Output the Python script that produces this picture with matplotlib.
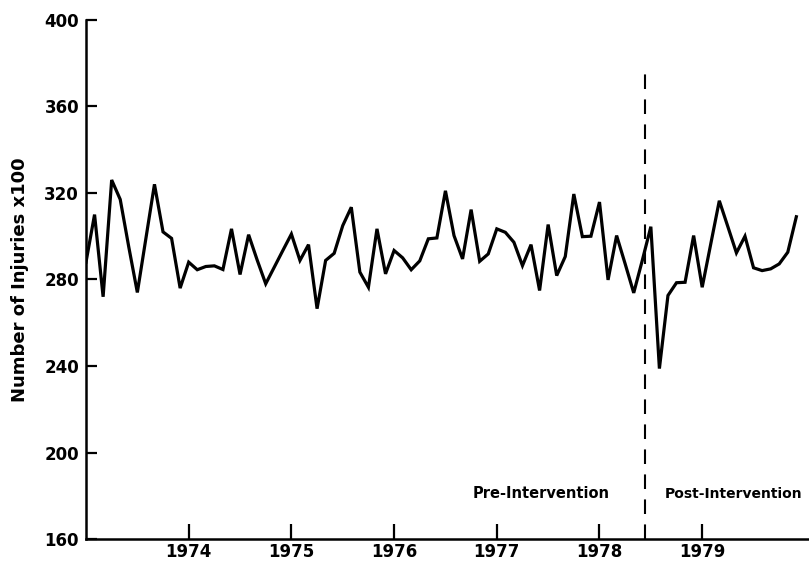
import numpy as np
import matplotlib.pyplot as plt

# monthly injuries (x100), Jan 1973 - Dec 1979
years = [1974, 1975, 1976, 1977, 1978, 1979]
injuries = [
	288, 310, 272, 326, 317, 295, 274, 299, 324, 302, 299, 276,
	288, 284.5, 286, 286.3, 284.6, 303.4, 282.3, 300.7, 289, 278, 285.7, 293.4,
	301, 288.8, 296.1, 266.5, 288.8, 292.1, 304.9, 313.4, 283.4, 276.4, 303.4, 282.6,
	293.4, 290, 284.5, 288.6, 298.8, 299.2, 321, 300.3, 289.5, 312.3, 288.4, 291.8,
	303.4, 301.8, 297.2, 286.4, 296.1, 274.9, 305.4, 281.8, 290.6, 319.5, 299.8, 300,
	315.8, 279.8, 300.3, 287.2, 273.8, 288.8, 304.4, 238.8, 272.6, 278.5, 278.7, 300.3,
	276.4, 296.4, 316.4, 304.4, 292.3, 300, 285.4, 284.1, 284.9, 287.2, 292.6, 309,
]
start_year = 1973
intervention = 1978.44
yticks = [160, 200, 240, 280, 320, 360, 400]

t = start_year + np.arange(len(injuries)) / 12.0

fig = plt.figure(figsize=(8.09, 5.63), dpi=100)
ax = fig.add_axes([0.1063, 0.0426, 0.8937, 0.922])

ax.plot(t, injuries, color='black', linewidth=2.3, solid_joinstyle='miter')
ax.plot([intervention, intervention], [160, 375], color='black', linewidth=1.5,
		linestyle=(0, (7, 5)))

ax.set_xlim(1973.0, 1980.04)
ax.set_ylim(160, 400)
ax.set_yticks(yticks)
ax.set_yticklabels([str(y) for y in yticks], fontsize=12, fontweight='bold')
ax.set_xticks(years)
ax.set_xticklabels([str(y) for y in years], fontsize=12, fontweight='bold')

for s in ['top', 'right']:
	ax.spines[s].set_visible(False)
for s in ['left', 'bottom']:
	ax.spines[s].set_linewidth(1.8)
ax.tick_params(axis='y', direction='in', length=8, width=1.6, pad=5)
ax.tick_params(axis='x', direction='in', length=11, width=1.6, pad=3)

ax.set_ylabel('Number of Injuries x100', fontsize=13, fontweight='bold', labelpad=11)

ax.text(1977.43, 181, 'Pre-Intervention', fontsize=10.5, fontweight='bold', ha='center', va='center')
ax.text(1978.64, 181, 'Post-Intervention', fontsize=10, fontweight='bold', ha='left', va='center')

fig.savefig('out.png', dpi=100)
